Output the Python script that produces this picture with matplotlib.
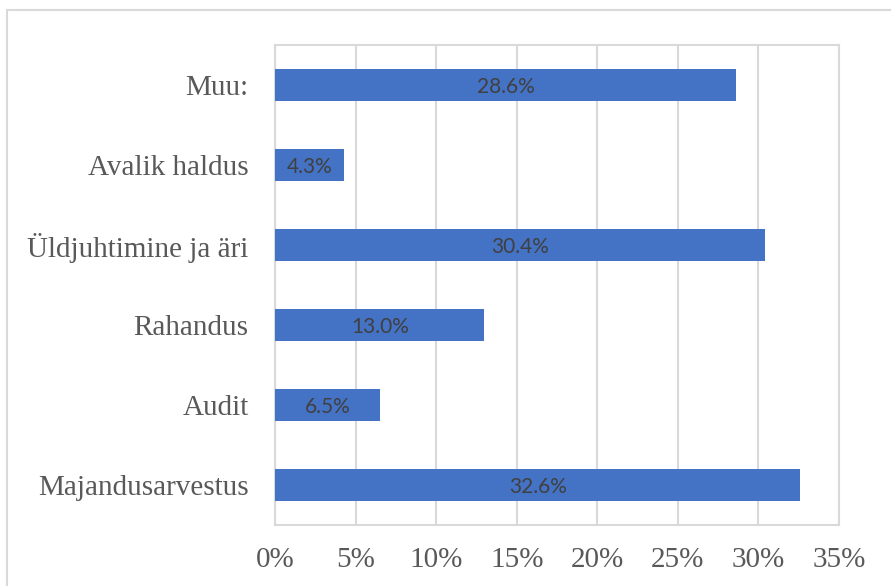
import matplotlib.pyplot as plt
from matplotlib.patches import Rectangle

categories = ["Majandusarvestus", "Audit", "Rahandus", "Üldjuhtimine ja äri", "Avalik haldus", "Muu:"]
values = [32.6, 6.5, 13.0, 30.4, 4.3, 28.6]
xticks = [0, 5, 10, 15, 20, 25, 30, 35]

fig = plt.figure(figsize=(8.91, 5.86), dpi=100)
fig.patches.append(Rectangle((7 / 891, -0.1), 1.2, 1 - 10 / 586 + 0.1, transform=fig.transFigure,
                             fill=False, edgecolor="#d9d9d9", linewidth=1.5))
ax = fig.add_axes([275 / 891, 1 - 525 / 586, 564 / 891, 480 / 586])

ypos = range(len(categories))
bars = ax.barh(ypos, values, height=0.4, color="#4472C4", zorder=3)
for y, v in zip(ypos, values):
    ax.text(v / 2, y, f"{v:.1f}%", ha="center", va="center_baseline", fontsize=15,
            family="Lato", color="#404040", zorder=4)

ax.set_xlim(0, 35)
ax.set_ylim(-0.5, 5.5)
ax.set_xticks(xticks)
ax.set_xticklabels([f"{t}%" for t in xticks])
ax.set_yticks(list(ypos))
ax.set_yticklabels(categories)
ax.grid(axis="x", color="#d9d9d9", linewidth=1.5, zorder=0)
ax.tick_params(length=0, labelsize=21, labelcolor="#595959")
ax.tick_params(axis="x", pad=16)
ax.tick_params(axis="y", pad=19)
for lbl in ax.get_xticklabels() + ax.get_yticklabels():
    lbl.set_family("Liberation Serif")
for s in ax.spines.values():
    s.set_color("#d9d9d9")
    s.set_linewidth(1.5)

fig.savefig("out.png", dpi=100)
